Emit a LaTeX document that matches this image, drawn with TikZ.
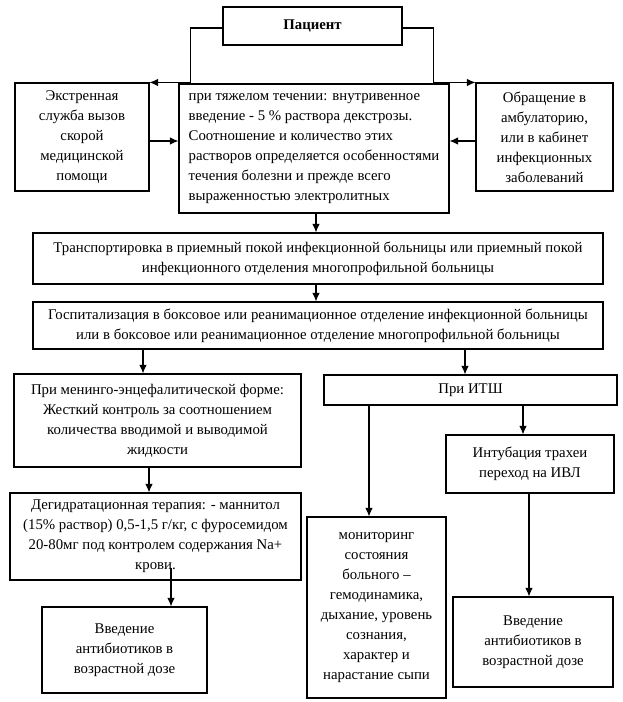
\documentclass[tikz,border=0pt]{standalone}
\usepackage{fontspec}
\setmainfont{Liberation Serif}
\usetikzlibrary{arrows.meta}
\tikzset{
  box/.style={draw=black, line width=1.1pt, rectangle, inner sep=2pt, align=center,
    font=\fontsize{14.8}{20}\selectfont},
  arr/.style={draw=black, line width=1.1pt, -{Latex[length=8.5pt,width=7.5pt]}},
}
\begin{document}
\begin{tikzpicture}[x=1pt,y=-1pt]
\useasboundingbox (0,0) rectangle (623,702);
\node[box, minimum width=179pt, minimum height=38pt, font=\fontsize{14.8}{20}\selectfont\bfseries] (P) at (312.5,26) {Пациент};
\node[box, minimum width=134pt, minimum height=108pt] (L) at (82,137) {Экстренная\\ служба вызов\\ скорой\\ медицинской\\ помощи};
\node[box, minimum width=270pt, minimum height=129pt, align=left] (C) at (314,148.5) {при тяжелом течении: внутривенное\\ введение - 5 \% раствора декстрозы.\\ Соотношение и количество этих\\ растворов определяется особенностями\\ течения болезни и прежде всего\\ выраженностью электролитных};
\node[box, minimum width=137pt, minimum height=108pt] (R) at (544.5,137) {Обращение в\\ амбулаторию,\\ или в кабинет\\ инфекционных\\ заболеваний};
\node[box, minimum width=570pt, minimum height=51pt] (T) at (318,258.5) {Транспортировка в приемный покой инфекционной больницы или приемный покой\\ инфекционного отделения многопрофильной больницы};
\node[box, minimum width=570pt, minimum height=47pt] (H) at (318,325.5) {Госпитализация в боксовое или реанимационное отделение инфекционной больницы\\ или в боксовое или реанимационное отделение многопрофильной больницы};
\node[box, minimum width=287pt, minimum height=93pt] (M) at (157.5,420.5) {При менинго-энцефалитической форме:\\ Жесткий контроль за соотношением\\ количества вводимой и выводимой\\ жидкости};
\node[box, minimum width=293pt, minimum height=30pt] (I) at (470.5,390) {При ИТШ};
\node[box, minimum width=291pt, minimum height=87pt] (D) at (155.5,536.5) {Дегидратационная терапия: - маннитол\\ (15\% раствор) 0,5-1,5 г/кг, с фуросемидом\\ 20-80мг под контролем содержания Na+\\ крови.};
\node[box, minimum width=168pt, minimum height=58pt] (Int) at (530,464) {Интубация трахеи\\ переход на ИВЛ};
\node[box, minimum width=139pt, minimum height=181pt] (Mon) at (376.5,607.5) {мониторинг\\ состояния\\ больного --\\ гемодинамика,\\ дыхание, уровень\\ сознания,\\ характер и\\ нарастание сыпи};
\node[box, minimum width=165pt, minimum height=86pt] (V1) at (124.5,650) {Введение\\ антибиотиков в\\ возрастной дозе};
\node[box, minimum width=160pt, minimum height=90pt] (V2) at (533,642) {Введение\\ антибиотиков в\\ возрастной дозе};

\coordinate (pw) at ([yshift=-2pt]P.west);
\coordinate (pe) at ([yshift=-2pt]P.east);
\draw[arr] (pw) -- ++(-32,0) |- (L.north east);
\draw[arr] (pe) -- ++(31,0) |- (R.north west);
\coordinate (la) at ([yshift=-4pt]L.east);
\coordinate (ra) at ([yshift=-4pt]R.west);
\draw[arr] (la) -- (la -| C.west);
\draw[arr] (ra) -- (ra -| C.east);
\draw[arr] (316,0 |- C.south) -- (316,0 |- T.north);
\draw[arr] (316,0 |- T.south) -- (316,0 |- H.north);
\draw[arr] (143,0 |- H.south) -- (143,0 |- M.north);
\draw[arr] (465,0 |- H.south) -- (465,0 |- I.north);
\draw[arr] (149,0 |- M.south) -- (149,0 |- D.north);
\draw[arr] (369,0 |- I.south) -- (369,0 |- Mon.north);
\draw[arr] (523,0 |- I.south) -- (523,0 |- Int.north);
\draw[arr] (529,0 |- Int.south) -- (529,0 |- V2.north);
\coordinate (dk) at (171,568);
\draw[arr] (dk) -- (dk |- V1.north);
\end{tikzpicture}
\end{document}
